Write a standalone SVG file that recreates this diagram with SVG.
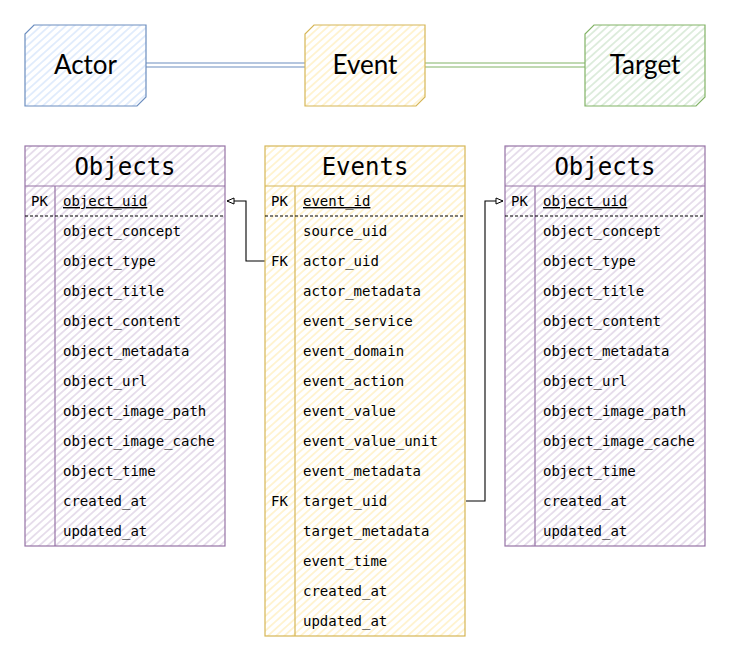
<svg xmlns="http://www.w3.org/2000/svg" width="731" height="661" viewBox="0 0 731 661">
<defs>
<pattern id="hBlue" width="5.5" height="5.5" patternUnits="userSpaceOnUse" patternTransform="rotate(-42)"><line x1="0" y1="2.75" x2="5.5" y2="2.75" stroke="#dae8fc" stroke-width="1.5"/></pattern>
<pattern id="hYellow" width="5.5" height="5.5" patternUnits="userSpaceOnUse" patternTransform="rotate(-42)"><line x1="0" y1="2.75" x2="5.5" y2="2.75" stroke="#fff2cc" stroke-width="1.7"/></pattern>
<pattern id="hGreen" width="5.5" height="5.5" patternUnits="userSpaceOnUse" patternTransform="rotate(-42)"><line x1="0" y1="2.75" x2="5.5" y2="2.75" stroke="#d5e8d4" stroke-width="1.5"/></pattern>
<pattern id="hPurple" width="5.5" height="5.5" patternUnits="userSpaceOnUse" patternTransform="rotate(-42)"><line x1="0" y1="2.75" x2="5.5" y2="2.75" stroke="#e1d5e7" stroke-width="1.5"/></pattern>
<marker id="arr" markerWidth="10" markerHeight="10" refX="8" refY="4" orient="auto" markerUnits="userSpaceOnUse"><path d="M1,1 L8,4 L1,7 Z" fill="#ffffff" stroke="#000" stroke-width="1"/></marker>
</defs>
<style>
.lbl{font-family:Lato,"Noto Sans",sans-serif;font-size:26px;fill:#000;text-anchor:middle;font-weight:normal}
.hdr{font-family:"DejaVu Sans Mono","Liberation Mono",monospace;font-size:24px;fill:#000;text-anchor:middle}
.f{font-family:"DejaVu Sans Mono","Liberation Mono",monospace;font-size:14px;fill:#000}
.u{text-decoration:underline}
.purple{stroke:#9673a6;fill:url(#hPurple);stroke-width:1.2}
.yellow{stroke:#d6b656;fill:url(#hYellow);stroke-width:1.2}
.pl{stroke:#9673a6;stroke-width:1.2;fill:none}
.yl{stroke:#d6b656;stroke-width:1.2;fill:none}
.dash{stroke:#000;stroke-width:1;stroke-dasharray:3 2}
.conn{fill:none;stroke:#000;stroke-width:1.1}
</style>
<g id="connectors">
<line x1="146" y1="63" x2="305" y2="63" stroke="#6c8ebf" stroke-width="1.2"/>
<line x1="146" y1="67" x2="305" y2="67" stroke="#6c8ebf" stroke-width="1.2"/>
<line x1="425" y1="63" x2="585" y2="63" stroke="#82b366" stroke-width="1.2"/>
<line x1="425" y1="67" x2="585" y2="67" stroke="#82b366" stroke-width="1.2"/>
<path class="conn" d="M265,261 H246 V201 H227" marker-end="url(#arr)"/>
<path class="conn" d="M466,501 H485 V201 H503" marker-end="url(#arr)"/>
</g>
<g id="actor">
<path d="M34,25 H146 V97 L137,106 H25 V34 Z" fill="url(#hBlue)" stroke="#6c8ebf" stroke-width="1.2"/>
<text class="lbl" x="85.5" y="74">Actor</text>
</g>
<g id="event">
<path d="M314,25 H425 V97 L416,106 H305 V34 Z" fill="url(#hYellow)" stroke="#d6b656" stroke-width="1.2"/>
<text class="lbl" x="365" y="74">Event</text>
</g>
<g id="target">
<path d="M594,25 H705 V97 L696,106 H585 V34 Z" fill="url(#hGreen)" stroke="#82b366" stroke-width="1.2"/>
<text class="lbl" x="645" y="74">Target</text>
</g>
<g id="objects-left">
<rect class="purple" x="25" y="146" width="200" height="400"/>
<line class="pl" x1="25" y1="186" x2="225" y2="186"/>
<line class="pl" x1="55" y1="186" x2="55" y2="546"/>
<line class="dash" x1="25" y1="216" x2="225" y2="216"/>
<text class="hdr" x="125" y="175">Objects</text>
<text class="f" x="31" y="206">PK</text>
<text class="f u" x="63" y="206">object_uid</text>
<text class="f" x="63" y="236">object_concept</text>
<text class="f" x="63" y="266">object_type</text>
<text class="f" x="63" y="296">object_title</text>
<text class="f" x="63" y="326">object_content</text>
<text class="f" x="63" y="356">object_metadata</text>
<text class="f" x="63" y="386">object_url</text>
<text class="f" x="63" y="416">object_image_path</text>
<text class="f" x="63" y="446">object_image_cache</text>
<text class="f" x="63" y="476">object_time</text>
<text class="f" x="63" y="506">created_at</text>
<text class="f" x="63" y="536">updated_at</text>
</g>
<g id="events">
<rect class="yellow" x="265" y="146" width="200" height="490"/>
<line class="yl" x1="265" y1="186" x2="465" y2="186"/>
<line class="yl" x1="295" y1="186" x2="295" y2="636"/>
<line class="dash" x1="265" y1="216" x2="465" y2="216"/>
<text class="hdr" x="365" y="175">Events</text>
<text class="f" x="271" y="206">PK</text>
<text class="f u" x="303" y="206">event_id</text>
<text class="f" x="303" y="236">source_uid</text>
<text class="f" x="271" y="266">FK</text>
<text class="f" x="303" y="266">actor_uid</text>
<text class="f" x="303" y="296">actor_metadata</text>
<text class="f" x="303" y="326">event_service</text>
<text class="f" x="303" y="356">event_domain</text>
<text class="f" x="303" y="386">event_action</text>
<text class="f" x="303" y="416">event_value</text>
<text class="f" x="303" y="446">event_value_unit</text>
<text class="f" x="303" y="476">event_metadata</text>
<text class="f" x="271" y="506">FK</text>
<text class="f" x="303" y="506">target_uid</text>
<text class="f" x="303" y="536">target_metadata</text>
<text class="f" x="303" y="566">event_time</text>
<text class="f" x="303" y="596">created_at</text>
<text class="f" x="303" y="626">updated_at</text>
</g>
<g id="objects-right">
<rect class="purple" x="505" y="146" width="200" height="400"/>
<line class="pl" x1="505" y1="186" x2="705" y2="186"/>
<line class="pl" x1="535" y1="186" x2="535" y2="546"/>
<line class="dash" x1="505" y1="216" x2="705" y2="216"/>
<text class="hdr" x="605" y="175">Objects</text>
<text class="f" x="511" y="206">PK</text>
<text class="f u" x="543" y="206">object_uid</text>
<text class="f" x="543" y="236">object_concept</text>
<text class="f" x="543" y="266">object_type</text>
<text class="f" x="543" y="296">object_title</text>
<text class="f" x="543" y="326">object_content</text>
<text class="f" x="543" y="356">object_metadata</text>
<text class="f" x="543" y="386">object_url</text>
<text class="f" x="543" y="416">object_image_path</text>
<text class="f" x="543" y="446">object_image_cache</text>
<text class="f" x="543" y="476">object_time</text>
<text class="f" x="543" y="506">created_at</text>
<text class="f" x="543" y="536">updated_at</text>
</g>
</svg>
